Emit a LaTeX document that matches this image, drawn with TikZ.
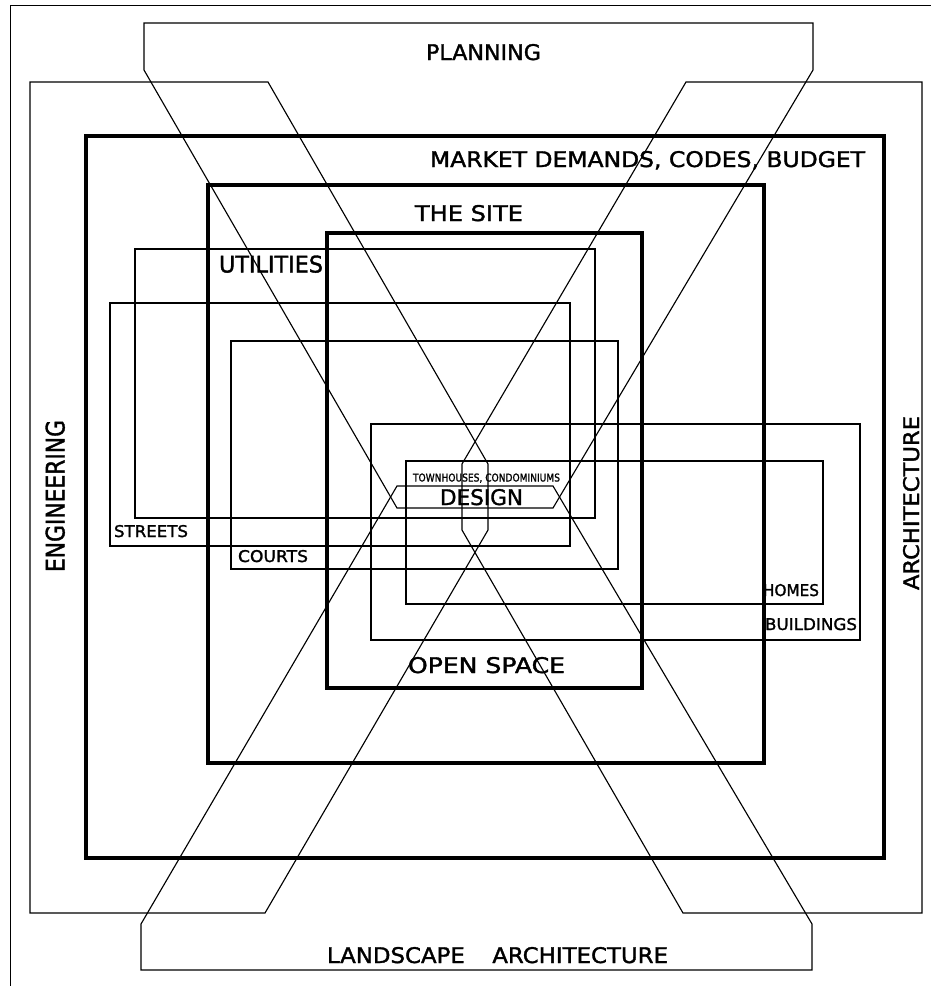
\documentclass[tikz,border=0pt]{standalone}
\usepackage{fontspec}
\setmainfont{DejaVu Sans}[FakeBold=1.5]
\usepackage{graphicx}
\newdimen\upx \upx=0.75pt
\newcommand\fitlbl[3]{\resizebox{#1\upx}{#2\upx}{\raisebox{0pt}[\height][0pt]{#3}}}
\begin{document}
\begin{tikzpicture}[x=0.75pt,y=-0.75pt,
  band/.style={line width=0.85pt, line join=miter},
  thickbox/.style={line width=3pt},
  thinbox/.style={line width=1.5pt},
  framel/.style={line width=1.4pt},
  lbl/.style={inner sep=0pt, outer sep=0pt}]
\useasboundingbox (0,0) rectangle (931,986);
\fill[white] (0,0) rectangle (931,986);
% frame (top and left edges only)
\draw[framel] (931,5.5) -- (10.5,5.5) -- (10.5,986);
% four discipline bands
\draw[band] (144,23) -- (144,70) -- (397,508) -- (553,508) -- (813,70) -- (813,23) -- cycle; % planning
\draw[band] (141,970) -- (141,924) -- (397,486) -- (553,486) -- (812,924) -- (812,970) -- cycle; % landscape
\draw[band] (30,82) -- (268,82) -- (488,464) -- (488,530) -- (265,913) -- (30,913) -- cycle; % engineering
\draw[band] (922,82) -- (686,82) -- (462,464) -- (462,530) -- (683,913) -- (922,913) -- cycle; % architecture
% thick boxes
\draw[thickbox] (86,136) rectangle (884,858);   % market
\draw[thickbox] (208,185) rectangle (764,763);  % site
\draw[thickbox] (327,233) rectangle (642,688);  % open space
% thin boxes
\draw[thinbox] (135,249) rectangle (595,518);   % utilities
\draw[thinbox] (110,303) rectangle (570,546);   % streets
\draw[thinbox] (231,341) rectangle (618,569);   % courts
\draw[thinbox] (371,424) rectangle (860,640);   % buildings
\draw[thinbox] (406,461) rectangle (823,604);   % homes
% labels
\node[lbl] (planning) at (483.5,52) {\fitlbl{115}{16}{PLANNING}};
\node[lbl] (market) at (647.5,159) {\fitlbl{435}{16}{MARKET DEMANDS, CODES, BUDGET}};
\node[lbl] (site) at (469,213) {\fitlbl{108}{16}{THE SITE}};
\node[lbl] (utilities) at (271,264) {\fitlbl{104}{17}{UTILITIES}};
\node[lbl] (streets) at (151,531) {\fitlbl{74}{12}{STREETS}};
\node[lbl] (courts) at (273,556) {\fitlbl{70}{12}{COURTS}};
\node[lbl] (homes) at (791,590) {\fitlbl{56}{12}{HOMES}};
\node[lbl] (buildings) at (811,624) {\fitlbl{92}{12}{BUILDINGS}};
\node[lbl] (townh) at (486.5,477.5) {\fitlbl{147}{8}{TOWNHOUSES, CONDOMINIUMS}};
\node[lbl] (design) at (481.5,497) {\fitlbl{83}{16}{DESIGN}};
\node[lbl] (openspace) at (486.5,665) {\fitlbl{157}{16}{OPEN SPACE}};
\node[lbl, rotate=90] (engineering) at (55,496) {\fitlbl{152}{19}{ENGINEERING}};
\node[lbl, rotate=90] (architecture) at (911,503) {\fitlbl{174}{16}{ARCHITECTURE}};
\node[lbl] (landscape) at (497.5,955) {\fitlbl{341}{16}{LANDSCAPE\hspace{1.2em}ARCHITECTURE}};
\end{tikzpicture}
\end{document}
